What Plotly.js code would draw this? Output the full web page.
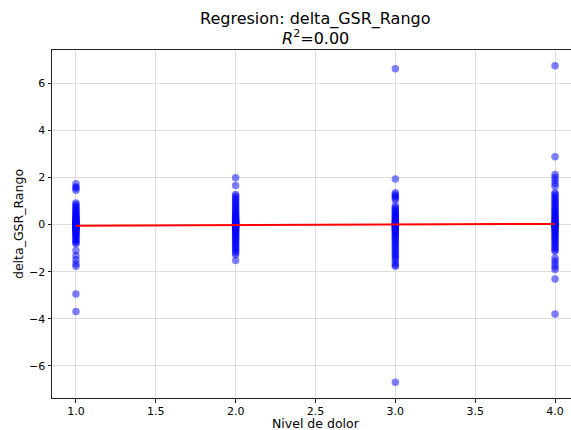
<!DOCTYPE html>
<html>
<head>
<meta charset="utf-8">
<script src="https://cdn.plot.ly/plotly-3.0.1.min.js"></script>
<style>
  html, body { margin: 0; padding: 0; overflow: hidden; background: #fff; }
  #chart { width: 580px; height: 430px; }
</style>
</head>
<body>
<div id="chart"></div>
<script>
// Pain levels and the delta_GSR_Rango values recorded at each level
const levels = [1, 2, 3, 4];

const deltaLevel1 = [
  1.74, 1.60, 1.55, 1.46,
  0.92, 0.85, 0.78, 0.71, 0.66, 0.60, 0.55, 0.49, 0.44, 0.40, 0.35, 0.31,
  0.27, 0.25, 0.22, 0.18, 0.15, 0.12, 0.11, 0.08, 0.05, 0.03, 0.02, -0.01,
  -0.02, -0.03, -0.06, -0.09, -0.10, -0.12, -0.15, -0.18, -0.20, -0.21,
  -0.25, -0.29, -0.33, -0.37, -0.42, -0.47, -0.52, -0.58, -0.64, -0.70,
  -0.76, -0.81,
  -1.10, -1.32, -1.49, -1.66, -1.77, -2.95, -3.69
];

const deltaLevel2 = [
  1.99, 1.66,
  1.28, 1.20, 1.12, 1.05, 0.98, 0.90, 0.83, 0.76, 0.70, 0.63, 0.57, 0.51,
  0.46, 0.41, 0.36, 0.31, 0.27, 0.23, 0.19, 0.15, 0.13, 0.11, 0.08, 0.06,
  0.05, 0.02, 0.00, -0.01, -0.03, -0.04, -0.07, -0.10, -0.12, -0.14, -0.18,
  -0.22, -0.26, -0.31, -0.36, -0.41, -0.46, -0.52, -0.58, -0.64, -0.70,
  -0.77, -0.84, -0.91, -0.98, -1.05, -1.12, -1.20, -1.28,
  -1.53
];

const deltaLevel3 = [
  6.62, 1.94,
  1.35, 1.27, 1.20, 1.13, 1.05,
  0.80, 0.72, 0.65, 0.58, 0.52, 0.46, 0.40, 0.35, 0.30, 0.25, 0.20, 0.16,
  0.12, 0.08, 0.06, 0.04, 0.01, -0.02, -0.04, -0.05, -0.08, -0.12, -0.16,
  -0.20, -0.24, -0.29, -0.34, -0.39, -0.45, -0.51, -0.57, -0.64, -0.71,
  -0.78, -0.86, -0.94, -1.02, -1.10, -1.18, -1.26, -1.34, -1.42, -1.49,
  -1.63, -1.72, -1.77,
  -6.70
];

const deltaLevel4 = [
  6.75, 2.88, 2.13, 2.00, 1.88, 1.75, 1.63,
  1.35, 1.28, 1.20, 1.12, 1.05, 0.98, 0.91, 0.84, 0.77, 0.70, 0.63, 0.57,
  0.51, 0.45, 0.39, 0.34, 0.29, 0.24, 0.19, 0.15, 0.11, 0.07, 0.05, 0.03,
  0.00, -0.03, -0.05, -0.07, -0.11, -0.15, -0.20, -0.25, -0.30, -0.36,
  -0.42, -0.48, -0.55, -0.62, -0.69, -0.76, -0.84, -0.92, -1.00, -1.07,
  -1.13,
  -1.42, -1.55, -1.68, -1.80, -1.91, -2.31, -3.80
];

// Fitted regression line (endpoints at the lowest and highest level)
const fitX = [1, 4];
const fitY = [-0.05, 0.03];

const xTicks = [1.0, 1.5, 2.0, 2.5, 3.0, 3.5, 4.0];
const xTickText = ['1.0', '1.5', '2.0', '2.5', '3.0', '3.5', '4.0'];
const yTicks = [-6, -4, -2, 0, 2, 4, 6];
const yTickText = ['\u22126', '\u22124', '\u22122', '0', '2', '4', '6'];

const titleLine1 = 'Regresion: delta_GSR_Rango';
const titleLine2 = '<i>R</i><sup>2</sup>=0.00';
const xLabel = 'Nivel de dolor';
const yLabel = 'delta_GSR_Rango';

const groups = [deltaLevel1, deltaLevel2, deltaLevel3, deltaLevel4];
const ptsX = [];
const ptsY = [];
groups.forEach((vals, i) => {
  vals.forEach(v => { ptsX.push(levels[i]); ptsY.push(v); });
});

const font = 'DejaVu Sans, sans-serif';

const traces = [
  {
    type: 'scatter',
    mode: 'markers',
    x: ptsX,
    y: ptsY,
    marker: { color: 'rgb(0,0,255)', size: 7.5, opacity: 0.5, line: { width: 0 } },
    hoverinfo: 'x+y'
  },
  {
    type: 'scatter',
    mode: 'lines',
    x: fitX,
    y: fitY,
    line: { color: 'rgb(255,0,0)', width: 2 }
  }
];

const axisCommon = {
  showline: true,
  mirror: true,
  linecolor: '#222',
  linewidth: 1,
  ticks: 'outside',
  ticklen: 3.5,
  tickwidth: 1,
  tickcolor: '#222',
  showgrid: true,
  gridcolor: '#dedede',
  gridwidth: 1,
  zeroline: false,
  tickfont: { family: font, size: 11, color: '#000' }
};

const textAnno = (text, x, y, size, extra) => Object.assign({
  text: text, x: x, y: y, xref: 'paper', yref: 'paper',
  xanchor: 'center', yanchor: 'middle', showarrow: false,
  font: { family: font, size: size, color: '#000' }
}, extra || {});

const layout = {
  width: 580,
  height: 430,
  margin: { l: 52, r: 1, t: 50, b: 32 },
  paper_bgcolor: '#fff',
  plot_bgcolor: '#fff',
  showlegend: false,
  font: { family: font, color: '#000' },
  xaxis: Object.assign({}, axisCommon, {
    range: [0.85, 4.15],
    tickvals: xTicks,
    ticktext: xTickText,
    ticklabelstandoff: -1
  }),
  yaxis: Object.assign({}, axisCommon, {
    range: [-7.37, 7.42],
    tickvals: yTicks,
    ticktext: yTickText
  }),
  annotations: [
    textAnno(titleLine1, 0.5, 1.089, 16),
    textAnno(titleLine2, 0.5, 1.0345, 16),
    textAnno(xLabel, 0.5, -0.0725, 12.5, { borderpad: 0 }),
    textAnno(yLabel, -0.0645, 0.5, 12.5, { textangle: -90 })
  ]
};

Plotly.newPlot('chart', traces, layout, { displayModeBar: false, staticPlot: true });
</script>
</body>
</html>
